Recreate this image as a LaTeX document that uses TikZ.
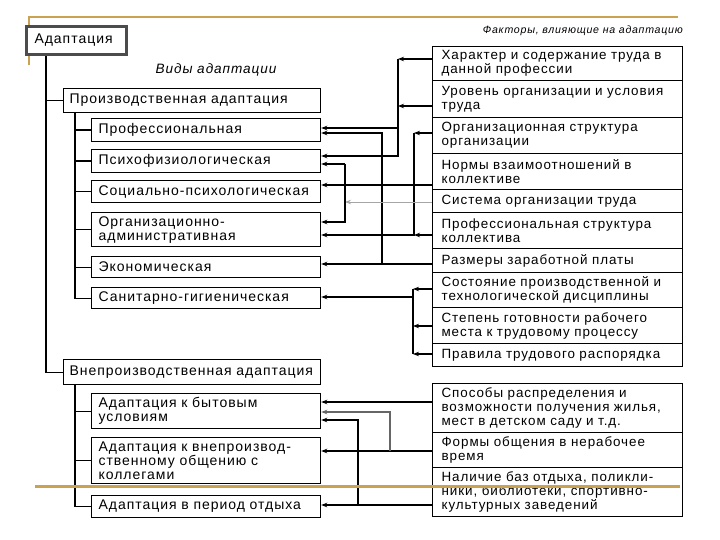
\documentclass[tikz,border=0pt]{standalone}
\usepackage{fontspec}
\setmainfont{Liberation Sans}[LetterSpace=7]
\usetikzlibrary{arrows.meta}
\definecolor{framegold}{RGB}{202,162,82}
\tikzset{
  adbox/.style={draw=black, line width=1.2pt, fill=white, anchor=north west, inner xsep=7pt, inner ysep=0pt, align=left, font=\fontsize{14}{14}\selectfont},
  kindbox/.style={adbox, text width=215pt},
  groupbox/.style={adbox, inner xsep=6pt, text width=245pt},
  factbox/.style={adbox, inner xsep=9pt, text width=232pt, font=\fontsize{13.4}{14}\selectfont},
  tree/.style={line width=1.2pt, draw=black},
  link/.style={->, line width=1.2pt, draw=black, >={Stealth[length=6pt,width=4.5pt]}},
  faintlink/.style={link, draw=black!35, line width=0.8pt},
  greylink/.style={link, draw=black!60},
  caption/.style={font=\fontsize{13.6}{14}\selectfont\itshape, inner sep=0pt}
}

\begin{document}
\begin{tikzpicture}[x=1pt, y=-1pt]
  \useasboundingbox (0,0) rectangle (720,540);
  \draw[framegold, line width=2pt] (29,65) -- (29,17) -- (678,17);

  % kinds of adaptation
  \node[adbox, draw=black!70, line width=3pt, inner xsep=8pt, text width=84pt, minimum height=28pt] (ad) at (25,25) {Адаптация};
  \node[caption] (kinds) at (216,70) {Виды адаптации};
  \node[groupbox, minimum height=24pt] (prod) at (63,88) {Производственная адаптация};
  \node[kindbox, minimum height=23pt] (p1) at (91,118) {Профессиональная};
  \node[kindbox, minimum height=23pt] (p2) at (91,149) {Психофизиологическая};
  \node[kindbox, minimum height=22pt] (p3) at (91,180) {Социально-психологическая};
  \node[kindbox, minimum height=34pt] (p4) at (91,212) {Организационно-\\административная};
  \node[kindbox, minimum height=21pt] (p5) at (91,256) {Экономическая};
  \node[kindbox, minimum height=21pt] (p6) at (91,287) {Санитарно-гигиеническая};
  \node[groupbox, minimum height=25pt] (vne) at (63,359) {Внепроизводственная адаптация};
  \node[kindbox, minimum height=35pt] (n1) at (91,393) {Адаптация к бытовым\\условиям};
  \node[kindbox, minimum height=46pt] (n2) at (91,437) {Адаптация к внепроизвод-\\ственному общению с\\коллегами};
  \node[kindbox, minimum height=22pt] (n3) at (91,495) {Адаптация в период отдыха};

  % factors
  \node[caption, font=\fontsize{10.6}{12}\selectfont\itshape, anchor=east] (facts) at (683,31) {Факторы, влияющие на адаптацию};
  \node[factbox, minimum height=34pt] (f1) at (432,46) {Характер и содержание труда в\\данной профессии};
  \node[factbox, minimum height=37pt] (f2) at (432,80) {Уровень организации и условия\\труда};
  \node[factbox, minimum height=36pt] (f3) at (432,117) {Организационная структура\\организации};
  \node[factbox, minimum height=36pt] (f4) at (432,153) {Нормы взаимоотношений в\\коллективе};
  \node[factbox, minimum height=23pt] (f5) at (432,189) {Система организации труда};
  \node[factbox, minimum height=36pt] (f6) at (432,212) {Профессиональная структура\\коллектива};
  \node[factbox, minimum height=24pt] (f7) at (432,248) {Размеры заработной платы};
  \node[factbox, minimum height=35pt] (f8) at (432,272) {Состояние производственной и\\технологической дисциплины};
  \node[factbox, minimum height=36pt] (f9) at (432,307) {Степень готовности рабочего\\места к трудовому процессу};
  \node[factbox, minimum height=23pt] (f10) at (432,343) {Правила трудового распорядка};
  \node[factbox, minimum height=49pt] (g1) at (432,383) {Способы распределения и\\возможности получения жилья,\\мест в детском саду и т.д.};
  \node[factbox, minimum height=35pt] (g2) at (432,432) {Формы общения в нерабочее\\время};
  \node[factbox, minimum height=49pt] (g3) at (432,467) {Наличие баз отдыха, поликли-\\ники, библиотеки, спортивно-\\культурных заведений};

  % tree of kinds
  \coordinate (trunk) at (46,0);
  \coordinate (prodsub) at (75,0);
  \draw[tree] (trunk |- ad.south) |- (vne.west);
  \draw[tree] (trunk |- prod.west) -- (prod.west);
  \draw[tree] (prodsub |- prod.south) |- (p6.west);
  \draw[tree] (prodsub |- p1.west) -- (p1.west);
  \draw[tree] (prodsub |- p2.west) -- (p2.west);
  \draw[tree] (prodsub |- p3.west) -- (p3.west);
  \draw[tree] (prodsub |- p4.west) -- (p4.west);
  \draw[tree] (prodsub |- p5.west) -- (p5.west);
  \draw[tree] (prodsub |- vne.south) |- (n3.west);
  \draw[tree] (prodsub |- n1.west) -- (n1.west);
  \draw[tree] (prodsub |- n2.west) -- (n2.west);

  % buses between factors and kinds
  \coordinate (busA) at (398,0);
  \coordinate (busB) at (382,0);
  \coordinate (busC) at (414,0);
  \coordinate (busD) at (345,0);
  \coordinate (busE) at (413,0);
  \coordinate (busF) at (390,0);
  \coordinate (busG) at (358,0);

  \draw[link] (f1.west |- 0,59) -- (busA |- 0,59);
  \draw[link] (f2.west |- 0,106) -- (busA |- 0,106);
  \draw[link] (busA |- 0,59) |- (p2.east |- 0,156);
  \draw[link] (busA |- 0,128) -- (p1.east |- 0,128);

  \draw[link] (f7.west |- 0,264) -- (p5.east |- 0,264);
  \draw[link] (busB |- 0,264) |- (p1.east |- 0,133);

  \draw[link] (f3.west |- 0,133) -- (busC |- 0,133);
  \draw[link] (f6.west |- 0,235) -- (busC |- 0,235);
  \draw[link] (busC |- 0,133) |- (p4.east |- 0,235);

  \draw[link] (f4.west |- 0,185) -- (p3.east |- 0,185);

  \draw[faintlink] (f5.west |- 0,202) -- (busD |- 0,202);
  \draw[link] (busD |- 0,164) -- (p2.east |- 0,164);
  \draw[link] (busD |- 0,164) |- (p4.east |- 0,222);

  \draw[link] (f8.west |- 0,289) -- (busE |- 0,289);
  \draw[link] (f9.west |- 0,326) -- (busE |- 0,326);
  \draw[link] (f10.west |- 0,354) -- (busE |- 0,354);
  \draw[tree] (busE |- 0,289) -- (busE |- 0,354);
  \draw[link] (busE |- 0,297) -- (p6.east |- 0,297);

  \draw[link] (g1.west |- 0,402) -- (n1.east |- 0,402);
  \draw[link] (g2.west |- 0,451) -- (n2.east |- 0,451);
  \draw[greylink] (busF |- 0,451) |- (n1.east |- 0,412);
  \draw[link] (g3.west |- 0,505) -- (n3.east |- 0,505);
  \draw[link] (busG |- 0,505) |- (n1.east |- 0,420);

  \draw[framegold, line width=3pt] (35,486) -- (680,486);
\end{tikzpicture}
\end{document}
